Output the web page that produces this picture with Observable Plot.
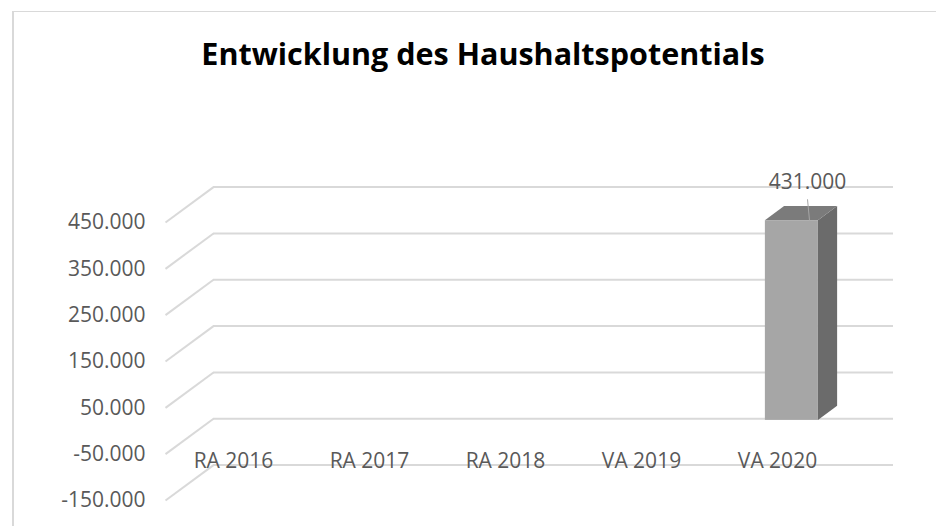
<!DOCTYPE html>
<html>
<head>
<meta charset="utf-8">
<script src="https://cdn.jsdelivr.net/npm/d3@7"></script>
<script src="https://cdn.jsdelivr.net/npm/@observablehq/plot@0.6"></script>
<style>
  html, body { margin: 0; padding: 0; background: #fff; }
  #wrap { position: relative; width: 936px; height: 526px; overflow: hidden; font-family: "Open Sans", sans-serif; }
  #frame { position: absolute; left: 12px; top: 11px; width: 1000px; height: 600px; border-left: 2px solid #d9d9d9; border-top: 1px solid #d9d9d9; box-sizing: border-box; }
  #title { position: relative; height: 90px; width: 966px; text-align: center; font-weight: 700; font-size: 30.5px; color: #000; line-height: 1; padding-top: 38px; box-sizing: border-box; }
  #chart svg { display: block; }
</style>
</head>
<body>
<div id="wrap">
  <div id="frame"></div>
  <div id="title">Entwicklung des Haushaltspotentials</div>
  <div id="chart"></div>
</div>
<script>
// ---- data ----
const categories = ["RA 2016", "RA 2017", "RA 2018", "VA 2019", "VA 2020"];
const values = [null, null, null, null, 431000];
const yTicks = [-150000, -50000, 50000, 150000, 250000, 350000, 450000];

// ---- layout (styles / positions) ----
const W = 936, H = 436;
const mL = 165, mR = 91, mT = 132, mB = 26;
const yMin = -150000, yMax = 450000;
const kx = (W - mL - mR) / categories.length;       // px per category unit
const ky = (H - mT - mB) / (yMax - yMin);           // px per value unit
const DX = 48, DY = 35.4;                           // 3D depth offset in px
const depthX = d => d * DX / kx;
const depthY = d => d * DY / ky;
const barHalf = 0.195, d0 = 0.3, d1 = 0.7;

const loc = d3.formatLocale({decimal: ",", thousands: ".", grouping: [3], currency: ["", "€"], minus: "-"});
const fmt = loc.format(",.0f");

const rows = categories.map((c, i) => ({cat: c, i, value: values[i]}));
const bars = rows.filter(d => d.value != null);
const sideFaces = bars.flatMap(d => [d0, d1].map(t => ({cat: d.cat, x: d.i + 0.5 + barHalf + depthX(t), y1: depthY(t), y2: d.value + depthY(t)})));
const topFaces = bars.flatMap(d => [d0, d1].map(t => ({cat: d.cat, y: d.value + depthY(t), x1: d.i + 0.5 - barHalf + depthX(t), x2: d.i + 0.5 + barHalf + depthX(t)})));

const grid = "#d9d9d9", txt = "#595959";

const chart = Plot.plot({
  width: W, height: H,
  marginLeft: mL, marginRight: mR, marginTop: mT, marginBottom: mB,
  x: {domain: [0, categories.length], axis: null},
  y: {domain: [yMin, yMax], axis: null},
  style: {fontFamily: "'Open Sans', sans-serif", overflow: "visible"},
  marks: [
    Plot.ruleY(yTicks, {x1: depthX(1), x2: categories.length + depthX(1), y: d => d + depthY(1), stroke: grid, strokeWidth: 2}),
    Plot.link(yTicks, {x1: 0, y1: d => d, x2: depthX(1), y2: d => d + depthY(1), stroke: grid, strokeWidth: 2}),
    Plot.text(yTicks, {x: 0, y: d => d, text: d => fmt(d), textAnchor: "end", dx: -20, fontSize: 21, fill: txt}),
    Plot.text(rows, {x: d => d.i + 0.5, y: yMin, dy: -39, text: "cat", fontSize: 21, fill: txt}),
    Plot.areaY(sideFaces, {x: "x", y1: "y1", y2: "y2", z: "cat", fill: "#6b6b6b"}),
    Plot.areaX(topFaces, {y: "y", x1: "x1", x2: "x2", z: "cat", fill: "#7b7b7b"}),
    Plot.rect(bars, {x1: d => d.i + 0.5 - barHalf + depthX(d0), x2: d => d.i + 0.5 + barHalf + depthX(d0), y1: depthY(d0), y2: d => d.value + depthY(d0), fill: "#a6a6a6"}),
    Plot.link(bars, {x1: d => d.i + 0.5 + 30 / kx, y1: d => d.value + 32 / ky, x2: d => d.i + 0.5 + 32 / kx, y2: d => d.value + 11 / ky, stroke: "#a6a6a6", strokeWidth: 1}),
    Plot.text(bars, {x: d => d.i + 0.5, y: "value", dx: 30, dy: -49, text: d => fmt(d.value), fontSize: 21, fill: txt})
  ]
});
document.getElementById("chart").appendChild(chart);
</script>
</body>
</html>
